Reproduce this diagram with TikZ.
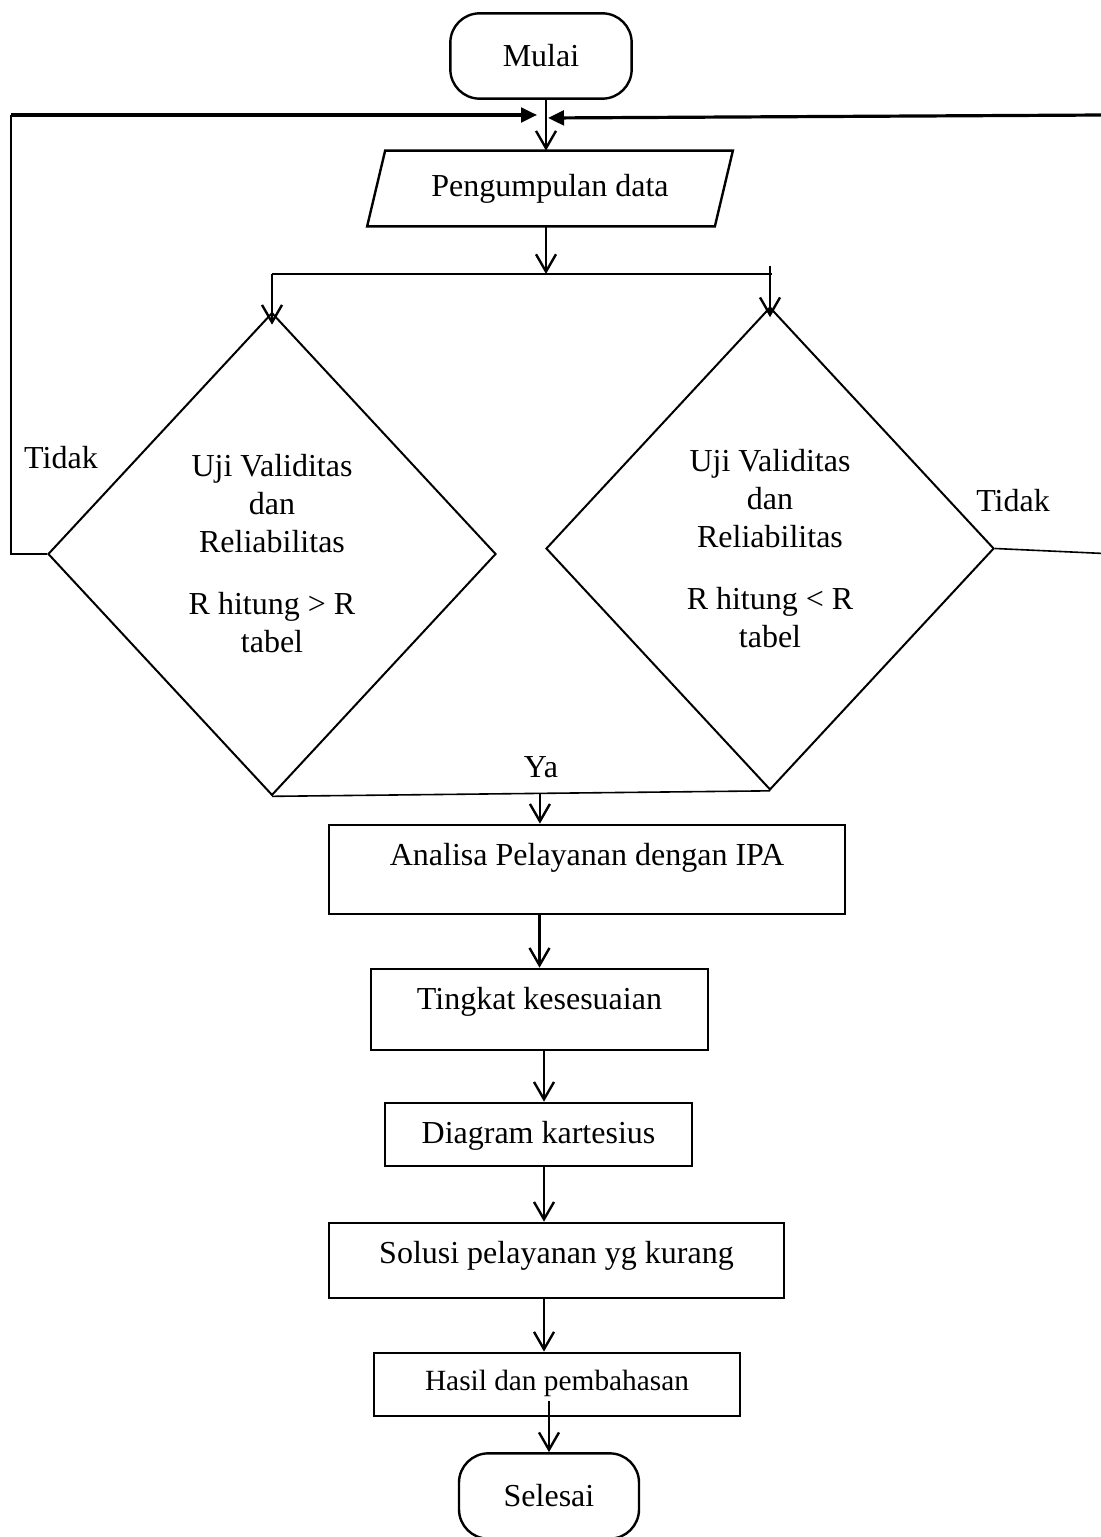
\documentclass[tikz,border=0pt]{standalone}
\usepackage{fontspec}
\setmainfont{Liberation Serif}
\usetikzlibrary{arrows.meta, positioning, shapes.geometric, calc}

\begin{document}
\begin{tikzpicture}[x=0.375pt, y=-0.375pt,
    every node/.style={font=\fontsize{12}{14.25}\selectfont},
    terminal/.style={draw, line width=0.9pt, rounded corners=11pt, minimum width=68pt, minimum height=32pt, inner sep=0pt},
    stepbox/.style={draw, line width=1pt, anchor=base, inner xsep=0pt, inner ysep=0pt, text height=15pt},
    decision/.style={diamond, draw, line width=0.75pt, minimum width=168pt, minimum height=181pt, inner sep=0pt, align=center},
    arr/.style={-{Straight Barb[length=6.5pt,width=7.5pt]}, line width=0.9pt},
    tri/.style={-{Triangle[length=6pt,width=5.5pt]}, line width=1.2pt},
    thinline/.style={line width=0.6pt}
  ]
      \useasboundingbox (0,0) rectangle (1101,1537);

      % start and input
      \node[terminal] (mulai) at (541,56) {Mulai};
      \node[inner sep=0pt, minimum width=130pt, minimum height=28pt] (data) at (550,188.5) {Pengumpulan data};
      \draw[line width=0.9pt] ($(data.north west)+(9,0)$) -- ($(data.north east)+(9,0)$) -- ($(data.south east)+(-9,0)$) -- ($(data.south west)+(-9,0)$) -- cycle;

      % the two tests
      \node[decision] (lvalid) at (272,554) {Uji Validitas\\dan\\Reliabilitas\\[9pt]R hitung > R\\tabel};
      \node[decision] (rvalid) at (770,548.5) {Uji Validitas\\dan\\Reliabilitas\\[9pt]R hitung < R\\tabel};
      \node (ltidak) at (61,458) {Tidak};
      \node (rtidak) at (1013,501) {Tidak};
      \node (yalbl) at (541,767) {Ya};

      % processing steps
      \node[stepbox, minimum width=193.5pt, text depth=18.4pt] (analisa) at (587,865) {Analisa Pelayanan dengan IPA};
      \node[stepbox, minimum width=126.4pt, text depth=15.4pt] (tingkat) at (539.5,1009) {Tingkat kesesuaian};
      \node[stepbox, minimum width=115.1pt, text depth=8.6pt] (diagram) at (538.5,1143) {Diagram kartesius};
      \node[stepbox, minimum width=170.6pt, text depth=13.1pt] (solusi) at (556.5,1263) {Solusi pelayanan yg kurang};
      \node[stepbox, minimum width=137.25pt, text height=13.9pt, text depth=9.75pt, font=\fontsize{11}{13}\selectfont] (hasil) at (557,1390) {Hasil dan pembahasan};
      \node[terminal, minimum width=67.5pt] (selesai) at (549,1496) {Selesai};

      \coordinate (mid) at (546,0);
      \coordinate (joinL) at (537,115);
      \coordinate (joinR) at (548,118);
      \coordinate (loopL) at (11,115);
      \coordinate (loopR) at (1104,115);
      \coordinate (split) at (546,274);
      \coordinate (spine) at (544,0);

      % top of the loop
      \draw[arr] (mulai.south -| mid) -- (data.north -| mid);
      \draw[thinline] (lvalid.west) -- (lvalid.west -| loopL) -- (loopL);
      \draw[tri] (loopL) -- (joinL);
      \draw[thinline] (rvalid.east) -- ($(loopR |- rvalid.east)+(0,5)$) -- (loopR);
      \draw[tri] (loopR) -- (joinR);

      % split to the tests
      \draw[arr] (data.south -| mid) -- (split);
      \draw[thinline] (split -| lvalid.north) -- ($(split -| rvalid.north)+(2,0)$);
      \draw[arr] (split -| lvalid.north) -- ($(lvalid.north)+(0,13)$);
      \draw[arr] ($(rvalid.north)+(0,-40)$) -- ($(rvalid.north)+(0,11)$);

      % join after the tests
      \draw[thinline] (lvalid.south) -- (rvalid.south);
      \coordinate (ya) at ($(lvalid.south)!0.538!(rvalid.south)$);
      \draw[arr] (ya) -- (ya |- analisa.north);

      \draw[arr] (analisa.south -| tingkat.north) -- (tingkat.north);
      \draw[arr] (tingkat.south -| spine) -- (diagram.north -| spine);
      \draw[arr] (diagram.south -| spine) -- (solusi.north -| spine);
      \draw[arr] (solusi.south -| spine) -- (hasil.north -| spine);
      \draw[arr] ($(hasil.south -| selesai.north)+(0,-16)$) -- (selesai.north);
    \end{tikzpicture}
\end{document}
